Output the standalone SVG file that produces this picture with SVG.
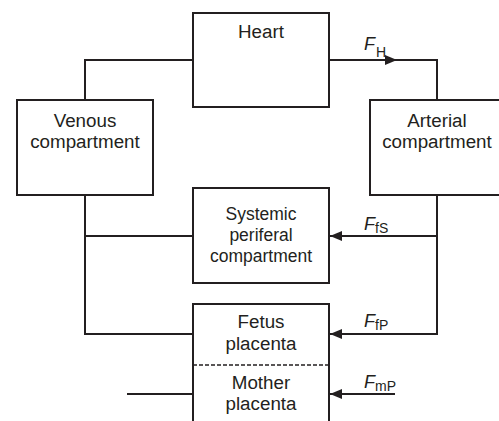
<svg xmlns="http://www.w3.org/2000/svg" width="499" height="421" viewBox="0 0 499 421">
<defs>
<style>
.box{fill:#fff;stroke:#231f20;stroke-width:2}
.ln{fill:none;stroke:#231f20;stroke-width:2}
.t{font-family:"Liberation Sans",Arial,sans-serif;font-size:18.8px;fill:#231f20;text-anchor:middle}
.ts{font-family:"Liberation Sans",Arial,sans-serif;font-size:17.5px;fill:#231f20;text-anchor:middle}
.f{font-family:"Liberation Sans",Arial,sans-serif;font-size:18px;font-style:italic;fill:#231f20}
.sub{font-style:normal;font-size:14px}
</style>
<marker id="ar" markerWidth="12" markerHeight="10" refX="12" refY="5" orient="auto" markerUnits="userSpaceOnUse">
<path d="M0,0 L12,5 L0,10 Z" fill="#231f20"/>
</marker>
</defs>
<rect width="499" height="421" fill="#fff"/>
<g id="connectors">
<path class="ln" d="M193,60 H85 V100"/>
<path class="ln" d="M329,60 H397" marker-end="url(#ar)"/>
<path class="ln" d="M396,60 H437 V100"/>
<path class="ln" d="M85,195 V334 H193"/>
<path class="ln" d="M85,236 H193"/>
<path class="ln" d="M127,394 H193"/>
<path class="ln" d="M437,195 V334 H330" marker-end="url(#ar)"/>
<path class="ln" d="M437,236 H330" marker-end="url(#ar)"/>
<path class="ln" d="M395,394 H330" marker-end="url(#ar)"/>
<text class="f" x="364" y="50">F<tspan class="sub" dx="1" dy="7">H</tspan></text>
<text class="f" x="364" y="230">F<tspan class="sub" dx="0" dy="3">fS</tspan></text>
<text class="f" x="364" y="327">F<tspan class="sub" dx="0" dy="3">fP</tspan></text>
<text class="f" x="364" y="388">F<tspan class="sub" dx="0" dy="3">mP</tspan></text>
</g>
<g id="heart">
<rect class="box" x="193" y="13" width="136" height="94"/>
<text class="t" x="261" y="38">Heart</text>
</g>
<g id="venous">
<rect class="box" x="17" y="100" width="136" height="95"/>
<text class="t" x="85" y="127">Venous</text>
<text class="t" x="85" y="148">compartment</text>
</g>
<g id="arterial">
<rect class="box" x="370" y="100" width="140" height="95"/>
<text class="t" x="437" y="127">Arterial</text>
<text class="t" x="437" y="148">compartment</text>
</g>
<g id="systemic">
<rect class="box" x="193" y="188" width="136" height="95"/>
<text class="ts" x="261" y="220">Systemic</text>
<text class="ts" x="261" y="241">periferal</text>
<text class="ts" x="261" y="262">compartment</text>
</g>
<g id="placenta">
<rect class="box" x="193" y="304" width="136" height="130"/>
<line x1="193" y1="365" x2="329" y2="365" stroke="#231f20" stroke-width="1.5" stroke-dasharray="4,2"/>
<text class="t" x="261" y="328">Fetus</text>
<text class="t" x="261" y="350">placenta</text>
<text class="t" x="261" y="389">Mother</text>
<text class="t" x="261" y="410">placenta</text>
</g>
</svg>
